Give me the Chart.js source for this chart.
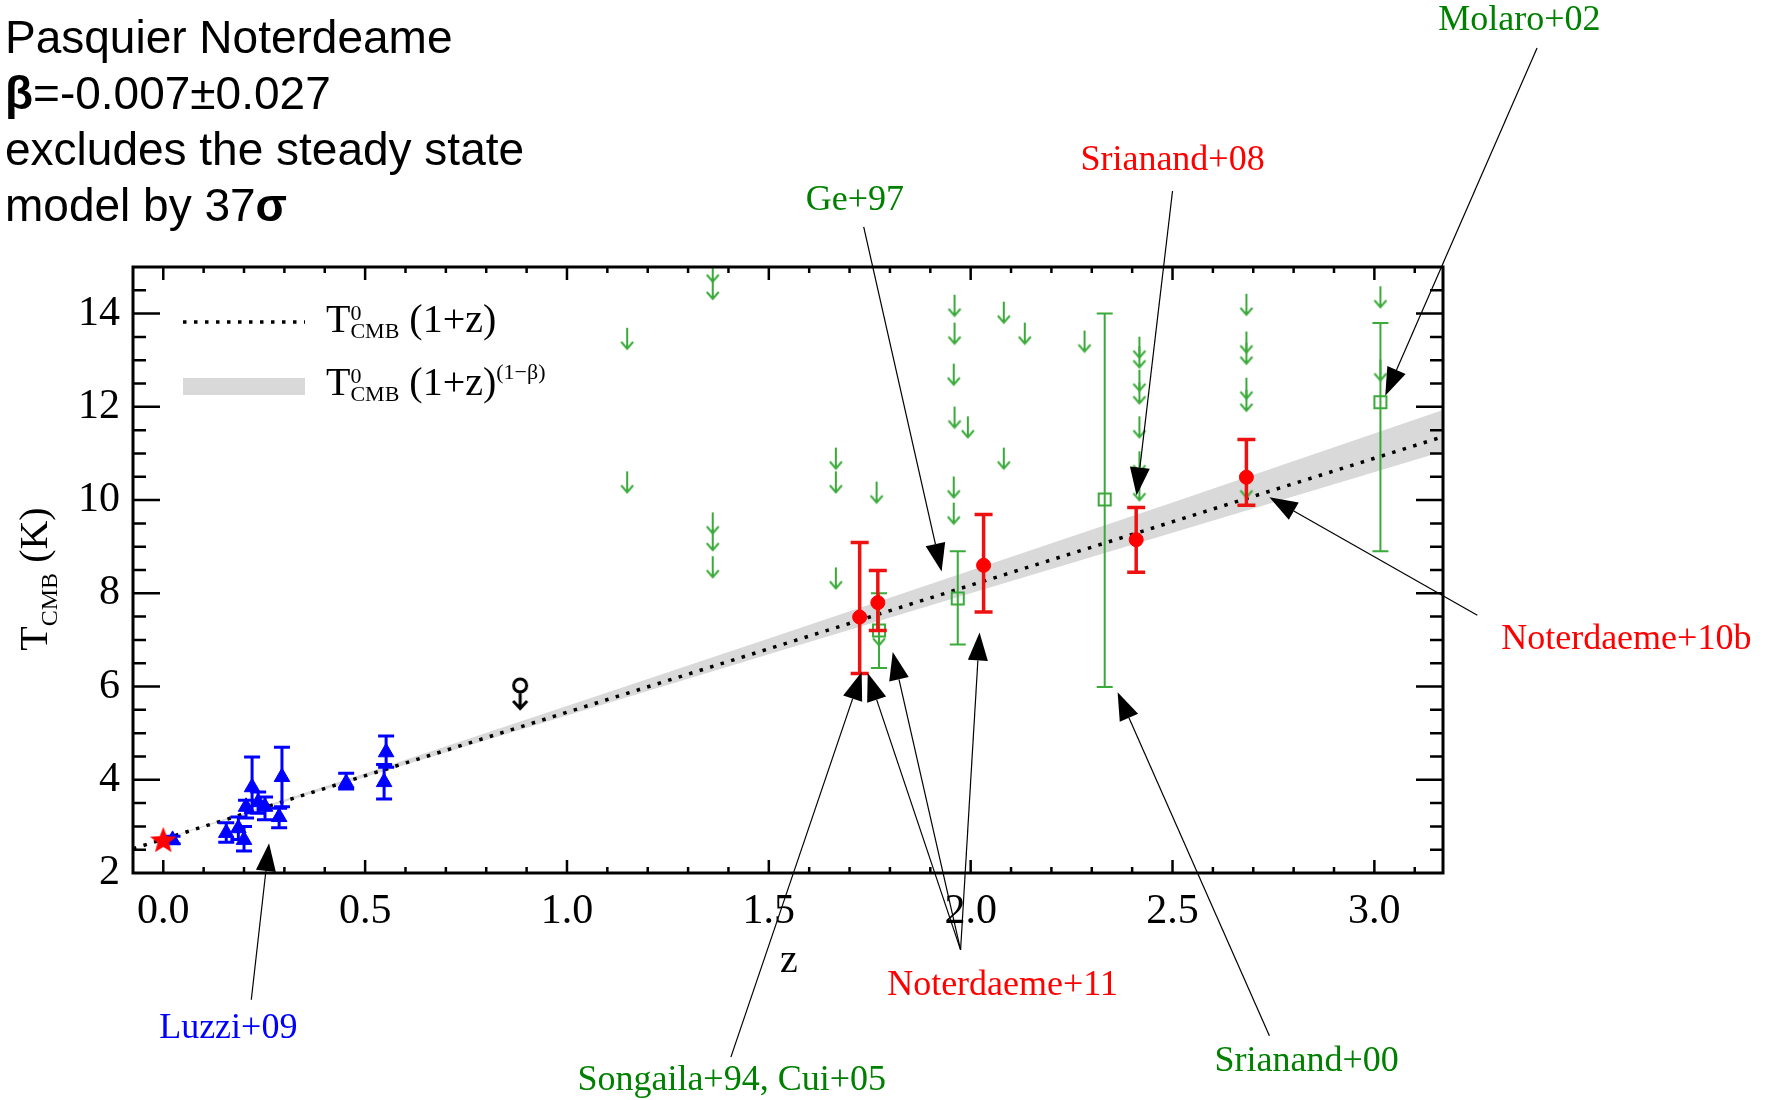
<!DOCTYPE html>
<html>
<head>
<meta charset="utf-8">
<script src="https://cdn.jsdelivr.net/npm/chart.js@4.4.1/dist/chart.umd.min.js"></script>
<style>
  html, body { margin: 0; padding: 0; background: #fff; }
  #wrap { width: 1769px; height: 1100px; }
</style>
</head>
<body>
<div id="wrap"><canvas id="cmbChart" width="1769" height="1100"></canvas></div>
<script>
// tick labels
const xTicks = [0.0, 0.5, 1.0, 1.5, 2.0, 2.5, 3.0];
const yTicks = [2, 4, 6, 8, 10, 12, 14];

// T0 today
const starZ = [0.0];
const starT = [2.71];

// Luzzi+09 (SZ clusters)
const luzziZ  = [0.023, 0.156, 0.186, 0.200, 0.205, 0.220, 0.235, 0.252, 0.287, 0.294, 0.453, 0.547, 0.552];
const luzziT  = [2.71, 2.86, 2.96, 2.71, 3.42, 3.84, 3.52, 3.42, 3.20, 4.06, 3.93, 3.95, 4.59];
const luzziLo = [2.63, 2.66, 2.72, 2.47, 3.18, 3.29, 3.28, 3.14, 2.97, 3.42, 3.80, 3.59, 4.27];
const luzziHi = [2.79, 3.08, 3.20, 3.00, 3.56, 4.49, 3.74, 3.63, 3.39, 4.70, 4.14, 4.33, 4.94];

// Noterdaeme / Srianand+08 (CO)
const coZ  = [1.725, 1.770, 2.032, 2.410, 2.683];
const coT  = [7.49, 7.80, 8.60, 9.15, 10.49];
const coLo = [6.28, 7.20, 7.60, 8.45, 9.89];
const coHi = [9.09, 8.49, 9.69, 9.84, 11.30];

// CI / CII fine structure measurements
const ciZ  = [1.773, 1.968, 2.332, 3.015];
const ciT  = [7.20, 7.89, 10.01, 12.10];
const ciLo = [6.40, 6.90, 5.99, 8.90];
const ciHi = [8.00, 8.90, 14.00, 13.80];

// upper limits
const limZ = [1.149, 1.149, 1.361, 1.361, 1.361, 1.361, 1.361, 1.666, 1.666, 1.666,
              1.767, 1.773, 1.960, 1.960, 1.958, 1.960, 1.993, 1.958, 1.958,
              2.082, 2.134, 2.082, 2.282,
              2.418, 2.418, 2.418, 2.418, 2.418, 2.418, 2.418,
              2.683, 2.683, 2.683, 2.683, 2.683, 2.683, 3.015, 3.015];
const limT = [13.46, 10.38, 14.90, 14.53, 9.50, 9.14, 8.56, 10.89, 10.38, 8.32,
              10.16, 7.10, 14.17, 13.57, 12.69, 11.77, 11.56, 10.27, 9.71,
              14.02, 13.57, 10.89, 13.40,
              13.27, 13.06, 12.56, 12.29, 11.56, 10.81, 10.21,
              14.19, 13.38, 13.14, 12.39, 12.13, 10.27, 14.35, 12.78];

// the single limit at z~0.9
const oddZ = [0.884];
const oddT = [5.84];

// T0(1+z) line and the (1+z)^(1-beta) band
const lineZ = [-0.075, 3.17];
const lineT = [2.52, 11.36];
const bandZ  = [-0.075, 0.5, 1.0, 1.5, 2.0, 2.5, 3.17];
const bandHi = [2.52, 4.14, 5.58, 7.03, 8.49, 9.95, 11.93];
const bandLo = [2.52, 4.06, 5.38, 6.69, 8.00, 9.30, 11.04];

// references and where their arrows point (data units)
const notes = [
  { text: 'Molaro+02', color: '#008000', at: [3.359, 20.28], arrows: [[3.403, 19.70, 3.027, 12.24]] },
  { text: 'Srianand+08', color: '#ff0000', at: [2.500, 17.28], arrows: [[2.500, 16.63, 2.411, 10.10]] },
  { text: 'Ge+97', color: '#008000', at: [1.713, 16.42], arrows: [[1.735, 15.86, 1.928, 8.47]] },
  { text: 'Noterdaeme+10b', color: '#ff0000', at: [3.624, 7.01], arrows: [[3.255, 7.53, 2.740, 10.06]] },
  { text: 'Noterdaeme+11', color: '#ff0000', at: [2.079, -0.42],
    arrows: [[1.975, 0.35, 1.745, 6.29], [1.975, 0.35, 1.807, 6.74], [1.975, 0.35, 2.022, 7.16]] },
  { text: 'Luzzi+09', color: '#0000ff', at: [0.161, -1.34], arrows: [[0.218, -0.72, 0.262, 2.64]] },
  { text: 'Songaila+94, Cui+05', color: '#008000', at: [1.408, -2.46], arrows: [[1.406, -1.95, 1.730, 6.31]] },
  { text: 'Srianand+00', color: '#008000', at: [2.832, -2.05], arrows: [[2.740, -1.49, 2.364, 5.88]] }
];

const SERIF = '"Liberation Serif", "Times New Roman", serif';
const SANS = '"Liberation Sans", Arial, sans-serif';

const pts = (zs, ts) => zs.map((z, i) => ({ x: z, y: ts[i] }));

function glyph(w, h, draw) {
  const c = document.createElement('canvas');
  c.width = w; c.height = h;
  draw(c.getContext('2d'));
  return c;
}

const downArrow = glyph(16, 24, g => {
  g.strokeStyle = '#3aaa3a';
  g.lineWidth = 2;
  g.beginPath();
  g.moveTo(8, 1); g.lineTo(8, 22);
  g.moveTo(2, 15); g.lineTo(8, 22); g.lineTo(14, 15);
  g.stroke();
});

const venusArrow = glyph(24, 34, g => {
  g.strokeStyle = '#000';
  g.lineWidth = 3;
  g.beginPath();
  g.arc(12, 8.5, 6.5, 0, Math.PI * 2);
  g.moveTo(12, 15); g.lineTo(12, 31.5);
  g.moveTo(5, 24); g.lineTo(12, 31.5); g.lineTo(19, 24);
  g.stroke();
});

const redStar = glyph(30, 30, g => {
  g.fillStyle = '#ff0000';
  g.beginPath();
  for (let i = 0; i < 10; i++) {
    const r = i % 2 === 0 ? 14 : 6;
    const a = -Math.PI / 2 + i * Math.PI / 5;
    g.lineTo(15 + r * Math.cos(a), 16 + r * Math.sin(a));
  }
  g.closePath();
  g.fill();
});

const errorBars = {
  id: 'errorBars',
  beforeDatasetDraw(chart, args) {
    const ds = chart.data.datasets[args.index];
    if (!ds.errLo) return;
    const { ctx, scales: { x, y } } = chart;
    ctx.save();
    ctx.strokeStyle = ds.errColor;
    ctx.lineWidth = ds.errWidth;
    ctx.beginPath();
    ds.data.forEach((p, i) => {
      const px = x.getPixelForValue(p.x);
      const lo = y.getPixelForValue(ds.errLo[i]);
      const hi = y.getPixelForValue(ds.errHi[i]);
      const c = ds.capHalf;
      ctx.moveTo(px, lo); ctx.lineTo(px, hi);
      ctx.moveTo(px - c, lo); ctx.lineTo(px + c, lo);
      ctx.moveTo(px - c, hi); ctx.lineTo(px + c, hi);
    });
    ctx.stroke();
    ctx.restore();
  }
};

const frame = {
  id: 'frame',
  afterDatasetsDraw(chart) {
    const { ctx, chartArea: a, scales: { x, y } } = chart;
    ctx.save();
    ctx.strokeStyle = '#000';
    ctx.lineWidth = 2.5;
    ctx.beginPath();
    for (let i = 0; i <= 31; i++) {
      const px = x.getPixelForValue(i / 10);
      const len = i % 5 === 0 ? 13 : 6;
      ctx.moveTo(px, a.bottom); ctx.lineTo(px, a.bottom - len);
      ctx.moveTo(px, a.top); ctx.lineTo(px, a.top + len);
    }
    for (let i = 1; i < 26; i++) {
      const py = y.getPixelForValue(2 + i * 0.5);
      const len = i % 4 === 0 ? 27 : 13;
      ctx.moveTo(a.left, py); ctx.lineTo(a.left + len, py);
      ctx.moveTo(a.right, py); ctx.lineTo(a.right - len, py);
    }
    ctx.stroke();
    ctx.lineWidth = 3;
    ctx.strokeRect(a.left, a.top, a.width, a.height);
    ctx.restore();
  }
};

// draws text pieces one after another; keep=true does not advance (for stacked sup/sub)
function rich(ctx, x, y, parts, family, measureOnly) {
  let cx = x;
  for (const p of parts) {
    ctx.font = (p.bold ? 'bold ' : '') + p.size + 'px ' + family;
    if (!measureOnly) ctx.fillText(p.t, cx, y + (p.dy || 0));
    if (!p.keep) cx += ctx.measureText(p.t).width;
  }
  return cx - x;
}

function arrow(ctx, x0, y0, x1, y1) {
  const ang = Math.atan2(y1 - y0, x1 - x0);
  const L = 28, W = 10;
  const bx = x1 - L * Math.cos(ang), by = y1 - L * Math.sin(ang);
  ctx.beginPath();
  ctx.moveTo(x0, y0); ctx.lineTo(bx, by);
  ctx.stroke();
  ctx.beginPath();
  ctx.moveTo(x1, y1);
  ctx.lineTo(bx + W * Math.sin(ang), by - W * Math.cos(ang));
  ctx.lineTo(bx - W * Math.sin(ang), by + W * Math.cos(ang));
  ctx.closePath();
  ctx.fill();
}

const texts = {
  id: 'texts',
  afterDraw(chart) {
    const { ctx, scales: { x, y } } = chart;
    ctx.save();
    ctx.fillStyle = '#000';
    ctx.textBaseline = 'alphabetic';
    ctx.textAlign = 'left';

    // header
    rich(ctx, 5, 53, [{ t: 'Pasquier Noterdeame', size: 46 }], SANS);
    rich(ctx, 5, 109, [{ t: 'β', size: 46, bold: true }, { t: '=-0.007±0.027', size: 46 }], SANS);
    rich(ctx, 5, 165, [{ t: 'excludes the steady state', size: 46 }], SANS);
    rich(ctx, 5, 221, [{ t: 'model by 37', size: 46 }, { t: 'σ', size: 46, bold: true }], SANS);

    // legend
    ctx.strokeStyle = '#000';
    ctx.lineWidth = 3.5;
    ctx.setLineDash([3.5, 7.5]);
    ctx.beginPath(); ctx.moveTo(183, 322); ctx.lineTo(305, 322); ctx.stroke();
    ctx.setLineDash([]);
    ctx.fillStyle = '#d9d9d9';
    ctx.fillRect(183, 378, 122, 17);
    ctx.fillStyle = '#000';
    const tcmb = [{ t: 'T', size: 40 }, { t: '0', size: 22, dy: -12, keep: true }, { t: 'CMB', size: 22, dy: 6 }];
    rich(ctx, 326, 332, tcmb.concat([{ t: ' (1+z)', size: 40 }]), SERIF);
    rich(ctx, 326, 395, tcmb.concat([{ t: ' (1+z)', size: 40 }, { t: '(1−β)', size: 22, dy: -16 }]), SERIF);

    // axis titles
    ctx.font = '40px ' + SERIF;
    ctx.textAlign = 'center';
    ctx.fillText('z', 789, 972);
    ctx.textAlign = 'left';
    const ytitle = [{ t: 'T', size: 40 }, { t: 'CMB', size: 24, dy: 10 }, { t: ' (K)', size: 40 }];
    ctx.save();
    ctx.translate(47, 579);
    ctx.rotate(-Math.PI / 2);
    const w = rich(ctx, 0, 0, ytitle, SERIF, true);
    rich(ctx, -w / 2, 0, ytitle, SERIF);
    ctx.restore();

    // references
    ctx.textAlign = 'center';
    ctx.textBaseline = 'middle';
    ctx.font = '36px ' + SERIF;
    ctx.strokeStyle = '#000';
    ctx.lineWidth = 1.2;
    notes.forEach(n => {
      ctx.fillStyle = n.color;
      ctx.fillText(n.text, x.getPixelForValue(n.at[0]), y.getPixelForValue(n.at[1]));
      ctx.fillStyle = '#000';
      n.arrows.forEach(a => arrow(ctx,
        x.getPixelForValue(a[0]), y.getPixelForValue(a[1]),
        x.getPixelForValue(a[2]), y.getPixelForValue(a[3])));
    });
    ctx.restore();
  }
};

const ctx = document.getElementById('cmbChart').getContext('2d');

new Chart(ctx, {
  type: 'scatter',
  data: {
    datasets: [
      { label: 'T0', data: pts(starZ, starT), pointStyle: redStar, pointRadius: 14, order: 1 },
      { label: 'Noterdaeme', data: pts(coZ, coT), pointStyle: 'circle', pointRadius: 7,
        backgroundColor: '#ff0000', borderColor: '#ff0000', borderWidth: 1,
        errLo: coLo, errHi: coHi, errColor: '#ee1111', errWidth: 3.5, capHalf: 9, order: 2 },
      { label: 'Luzzi', data: pts(luzziZ, luzziT), pointStyle: 'triangle', pointRadius: 9,
        backgroundColor: '#0000ff', borderColor: '#0000ff', borderWidth: 1,
        errLo: luzziLo, errHi: luzziHi, errColor: '#0000ff', errWidth: 3, capHalf: 8, order: 3 },
      { label: 'CI', data: pts(ciZ, ciT), pointStyle: 'rect', pointRadius: 8.5,
        backgroundColor: 'rgba(0,0,0,0)', borderColor: '#3aaa3a', borderWidth: 2,
        errLo: ciLo, errHi: ciHi, errColor: '#3aaa3a', errWidth: 2, capHalf: 8, order: 4 },
      { label: 'limits', data: pts(limZ, limT), pointStyle: downArrow, pointRadius: 10, order: 5 },
      { label: 'limit', data: pts(oddZ, oddT), pointStyle: venusArrow, pointRadius: 12, order: 5 },
      { label: 'T0(1+z)', data: pts(lineZ, lineT), showLine: true, pointRadius: 0,
        borderColor: '#000', borderWidth: 3.5, borderDash: [3.5, 7.5], fill: false, order: 6 },
      { label: 'band low', data: pts(bandZ, bandLo), showLine: true, pointRadius: 0,
        borderWidth: 0, borderColor: 'rgba(0,0,0,0)', fill: false, order: 8 },
      { label: 'band high', data: pts(bandZ, bandHi), showLine: true, pointRadius: 0,
        borderWidth: 0, borderColor: 'rgba(0,0,0,0)', backgroundColor: '#d9d9d9', fill: '-1', order: 7 }
    ]
  },
  options: {
    responsive: false,
    animation: false,
    layout: { padding: { left: 0, top: 267, right: 326, bottom: 0 } },
    plugins: { legend: { display: false }, tooltip: { enabled: false } },
    scales: {
      x: {
        type: 'linear', min: -0.075, max: 3.17,
        grid: { display: false, drawTicks: false }, border: { display: false },
        afterBuildTicks: s => { s.ticks = xTicks.map(v => ({ value: v })); },
        afterFit: s => { s.height = 227; },
        ticks: { font: { family: SERIF, size: 42 }, color: '#000', padding: 14, maxRotation: 0,
                 callback: v => v.toFixed(1) }
      },
      y: {
        type: 'linear', min: 2, max: 15,
        grid: { display: false, drawTicks: false }, border: { display: false },
        afterBuildTicks: s => { s.ticks = yTicks.map(v => ({ value: v })); },
        afterFit: s => { s.width = 133; },
        ticks: { font: { family: SERIF, size: 42 }, color: '#000', padding: 13,
                 callback: v => String(v) }
      }
    }
  },
  plugins: [errorBars, frame, texts]
});
</script>
</body>
</html>
